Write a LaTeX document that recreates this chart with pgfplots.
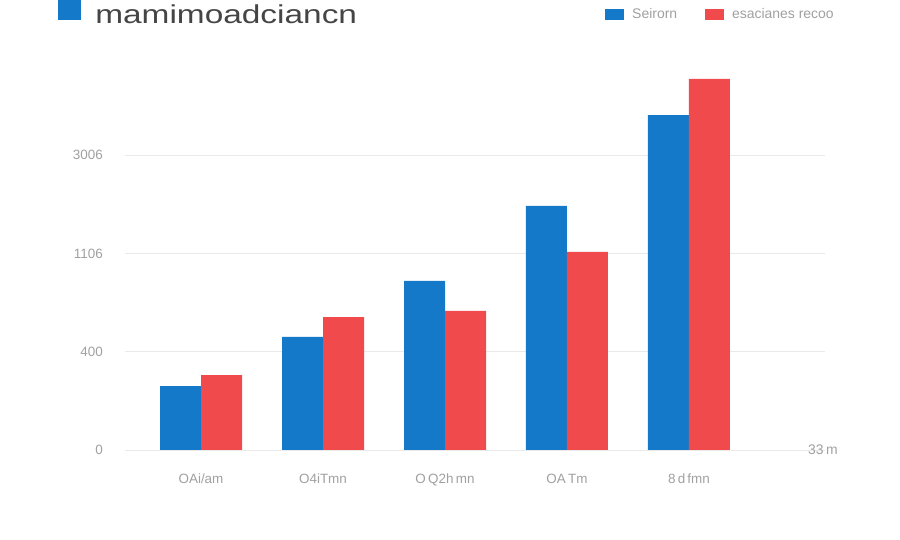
\documentclass[border=0pt]{standalone}
\usepackage{fontspec}
\setmainfont{Liberation Sans}
\usepackage{pgfplots}
\pgfplotsset{compat=1.18}
\definecolor{barblue}{HTML}{1479C9}
\definecolor{barred}{HTML}{F04A4C}
\definecolor{gridc}{HTML}{E9E9E9}
\definecolor{labc}{HTML}{A0A0A0}
\definecolor{titc}{HTML}{454545}
\begin{document}
\begin{tikzpicture}[x=1bp,y=1bp]
\useasboundingbox (0,0) rectangle (900,540);
\begin{axis}[
  at={(125bp,90bp)}, anchor=south west,
  scale only axis, width=700bp, height=383.4bp,
  xmin=-0.623, xmax=5.115, ymin=0, ymax=1560,
  ybar=0pt, bar width=41bp,
  axis line style={draw=none},
  major tick length=0pt,
  ymajorgrids, grid style={gridc, line width=0.8bp},
  ytick={0,400,800,1200},
  yticklabels={0,400,1106,3006},
  xtick={0,1,2,3,4},
  xticklabels={OAi/am, O4iTmn, O\,Q2h\,mn, OA\,Tm, 8\,d\,fmn},
  /pgf/number format/assume math mode=true,
  yticklabel style={font=\fontsize{13.5}{15}\selectfont, text=labc, inner sep=0pt, xshift=-22bp},
  xticklabel style={font=\fontsize{13.5}{15}\selectfont, text=labc, inner sep=0pt, yshift=-24bp},
  legend style={draw=none, fill=none, at={(axis description cs:0.6857,1.136)}, anchor=west,
    font=\fontsize{14}{16}\selectfont\color{labc}, inner sep=0pt,
    nodes={inner sep=0pt},
    legend cell align=left, /tikz/every even column/.style={column sep=28bp}},
  legend columns=2,
  legend image code/.code={\fill[#1] (0bp,-5.5bp) rectangle (19bp,5.5bp); \path (27bp,0bp);},
  clip=false,
]
\addplot[fill=barblue, draw=none] coordinates {(0,260) (1,460) (2,688) (3,993) (4,1363)};
\addplot[fill=barred, draw=none] coordinates {(0,305) (1,541) (2,566) (3,806) (4,1510)};
\legend{Seirorn, esacianes recoo}
\node[anchor=west, font=\fontsize{14}{16}\selectfont, text=labc, inner sep=0pt] at (rel axis cs:0.9757,0) {33\,m};
\end{axis}
\fill[barblue] (58,520) rectangle (81,540);
\node[anchor=base west, inner sep=0pt, text=titc, font=\fontsize{26}{28}\selectfont, xscale=1.29] at (95,516) {mamimoadciancn};
\end{tikzpicture}
\end{document}
